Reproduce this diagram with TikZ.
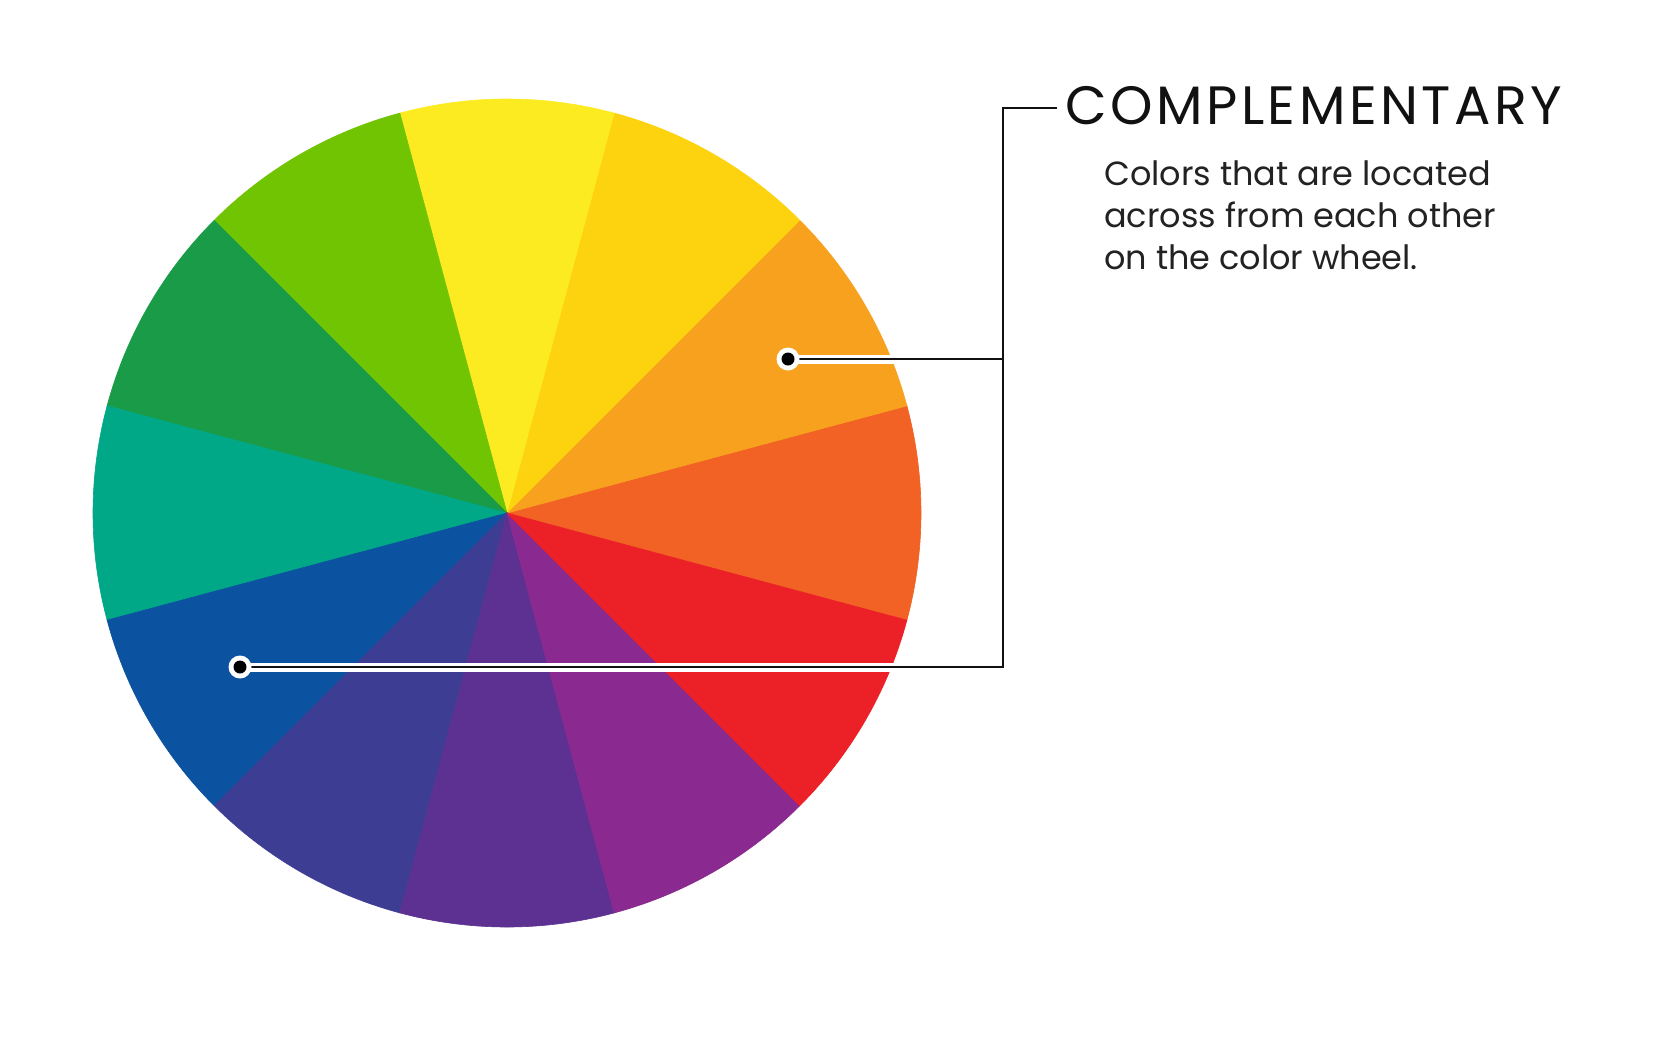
\documentclass[tikz,border=0pt]{standalone}
\usepackage{fontspec}
\setmainfont{Poppins}
\definecolor{cA}{HTML}{F16224}
\definecolor{cB}{HTML}{F7A11F}
\definecolor{cC}{HTML}{FDD20E}
\definecolor{cD}{HTML}{FDEB22}
\definecolor{cE}{HTML}{71C402}
\definecolor{cF}{HTML}{199B48}
\definecolor{cG}{HTML}{00A887}
\definecolor{cH}{HTML}{0B52A0}
\definecolor{cI}{HTML}{3E3D94}
\definecolor{cJ}{HTML}{5D3191}
\definecolor{cK}{HTML}{8A298F}
\definecolor{cL}{HTML}{EC2027}
\definecolor{inkc}{HTML}{111111}
\definecolor{bodyc}{HTML}{222222}
\tikzset{
  casing/.style={white, line width=9pt},
  leader/.style={inkc, line width=2.2pt},
  dotring/.style={circle, fill=white, minimum size=23pt, inner sep=0pt},
  dotcore/.style={circle, fill=black, minimum size=13pt, inner sep=0pt},
  bodytext/.style={anchor=base west, inner sep=0pt, text=bodyc, font=\fontsize{33.5}{40}\selectfont},
}
\begin{document}
\begin{tikzpicture}[x=1pt,y=-1pt]
\useasboundingbox[fill=white] (0,0) rectangle (1680,1050);
\coordinate (c) at (507,513);
\foreach \a/\col in {-15/cA,15/cB,45/cC,75/cD,105/cE,135/cF,165/cG,195/cH,225/cI,255/cJ,285/cK,315/cL}{
  \fill[\col, draw=\col, line width=0.6pt] (c) -- ++({-\a}:414) arc[start angle={-\a}, end angle={-\a-30}, radius=414] -- cycle;
}
\coordinate (dA) at (788,359);
\coordinate (dB) at (240,667);
\coordinate (jA) at (1003,359);
\coordinate (jB) at (1003,667);
\coordinate (top) at (1003,108);
\coordinate (topE) at (1057,108);
\draw[casing] (dA) -- (jA);
\draw[casing] (dB) -- (jB);
\draw[leader] (dA) -- (jA);
\draw[leader, line join=miter] (dB) -- (jB) -- (top) -- (topE);
\node[dotring] (ringA) at (dA) {};
\node[dotcore] (coreA) at (dA) {};
\node[dotring] (ringB) at (dB) {};
\node[dotcore] (coreB) at (dB) {};
\node[anchor=base west, inner sep=0pt, text=inkc, font=\fontsize{54}{60}\selectfont\addfontfeature{LetterSpace=6.5}] (title) at (1065,124) {COMPLEMENTARY};
\node[bodytext] (body1) at (1104,185) {Colors that are located};
\node[bodytext] (body2) at (1104,227) {across from each other};
\node[bodytext] (body3) at (1104,269) {on the color wheel.};
\end{tikzpicture}
\end{document}
